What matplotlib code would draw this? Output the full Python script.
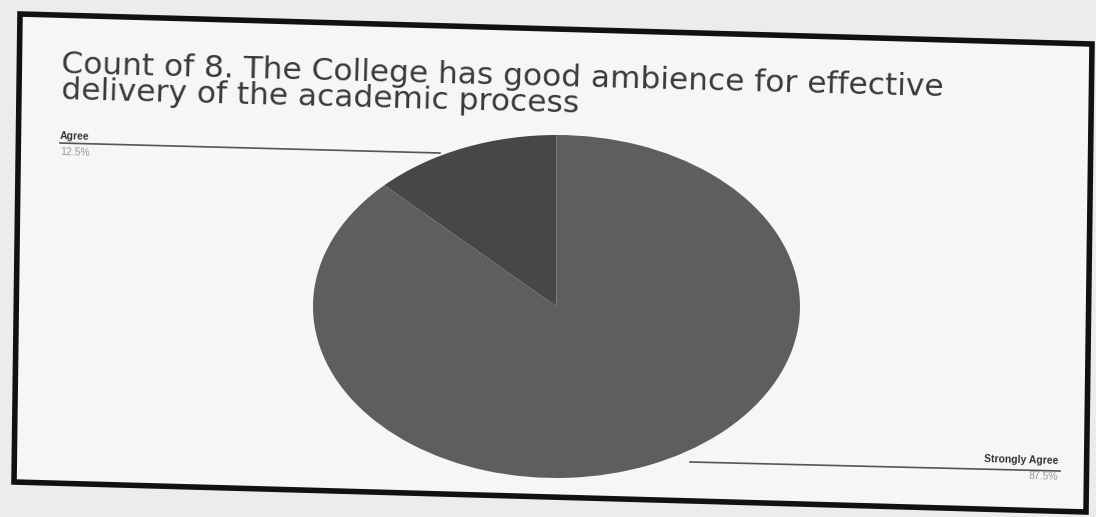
import matplotlib.pyplot as plt
from matplotlib.lines import Line2D
from matplotlib.patches import Polygon

# data
labels = ["Agree", "Strongly Agree"]
counts = [12.5, 87.5]
colors = ["#474747", "#5e5e5e"]
title = "Count of 8. The College has good ambience for effective\ndelivery of the academic process"

plt.rcParams['font.family'] = ['Liberation Sans', 'DejaVu Sans']

W, H = 1096, 517
fig = plt.figure(figsize=(W/100, H/100), dpi=100)
fig.patch.set_facecolor("#ececec")

def px(x, y):
    return (x/W, 1 - y/H)

# scanned frame (slightly tilted)
frame = Polygon([px(20, 14), px(1092, 44), px(1086, 512), px(14, 482)],
                closed=True, transform=fig.transFigure,
                facecolor="#f6f6f6", edgecolor="#111111", linewidth=4, zorder=-5)
fig.patches.append(frame)

# pie stretched into an ellipse
ax = fig.add_axes([313/W, 1 - 478/H, 487/W, 343/H])
ax.set_zorder(2)
ax.pie(counts, colors=colors, startangle=90, counterclock=True,
       wedgeprops=dict(linewidth=0))
ax.set_aspect('auto')
ax.set_xlim(-1, 1)
ax.set_ylim(-1, 1)
ax.axis('off')

# title (wide font, like the stretched scan)
fig.text(62/W, 1 - 50/H, title, fontsize=22.5, color="#3a3a3a", family='DejaVu Sans',
         ha='left', va='top', rotation=-1.5, rotation_mode='anchor',
         linespacing=0.86)

# leader lines
fig.add_artist(Line2D([60/W, 440/W], [1 - 143/H, 1 - 153/H], color="#555555", lw=1.2))
fig.add_artist(Line2D([690/W, 1060/W], [1 - 462/H, 1 - 471/H], color="#555555", lw=1.2))

# slice labels
fig.text(60/W, 1 - 141/H, labels[0], fontsize=7.5, color="#333333", ha='left', va='bottom',
         fontweight='bold', rotation=-1.5, rotation_mode='anchor')
fig.text(60/W, 1 - 147/H, f"{counts[0]}%", fontsize=7.5, color="#999999", ha='left', va='top',
         rotation=-1.5, rotation_mode='anchor')
fig.text(1058/W, 1 - 466/H, labels[1], fontsize=7.5, color="#333333", ha='right', va='bottom',
         fontweight='bold', rotation=-1.5, rotation_mode='anchor')
fig.text(1058/W, 1 - 472/H, f"{counts[1]}%", fontsize=7.5, color="#999999", ha='right', va='top',
         rotation=-1.5, rotation_mode='anchor')

fig.savefig("out.png", dpi=100, facecolor=fig.get_facecolor())
